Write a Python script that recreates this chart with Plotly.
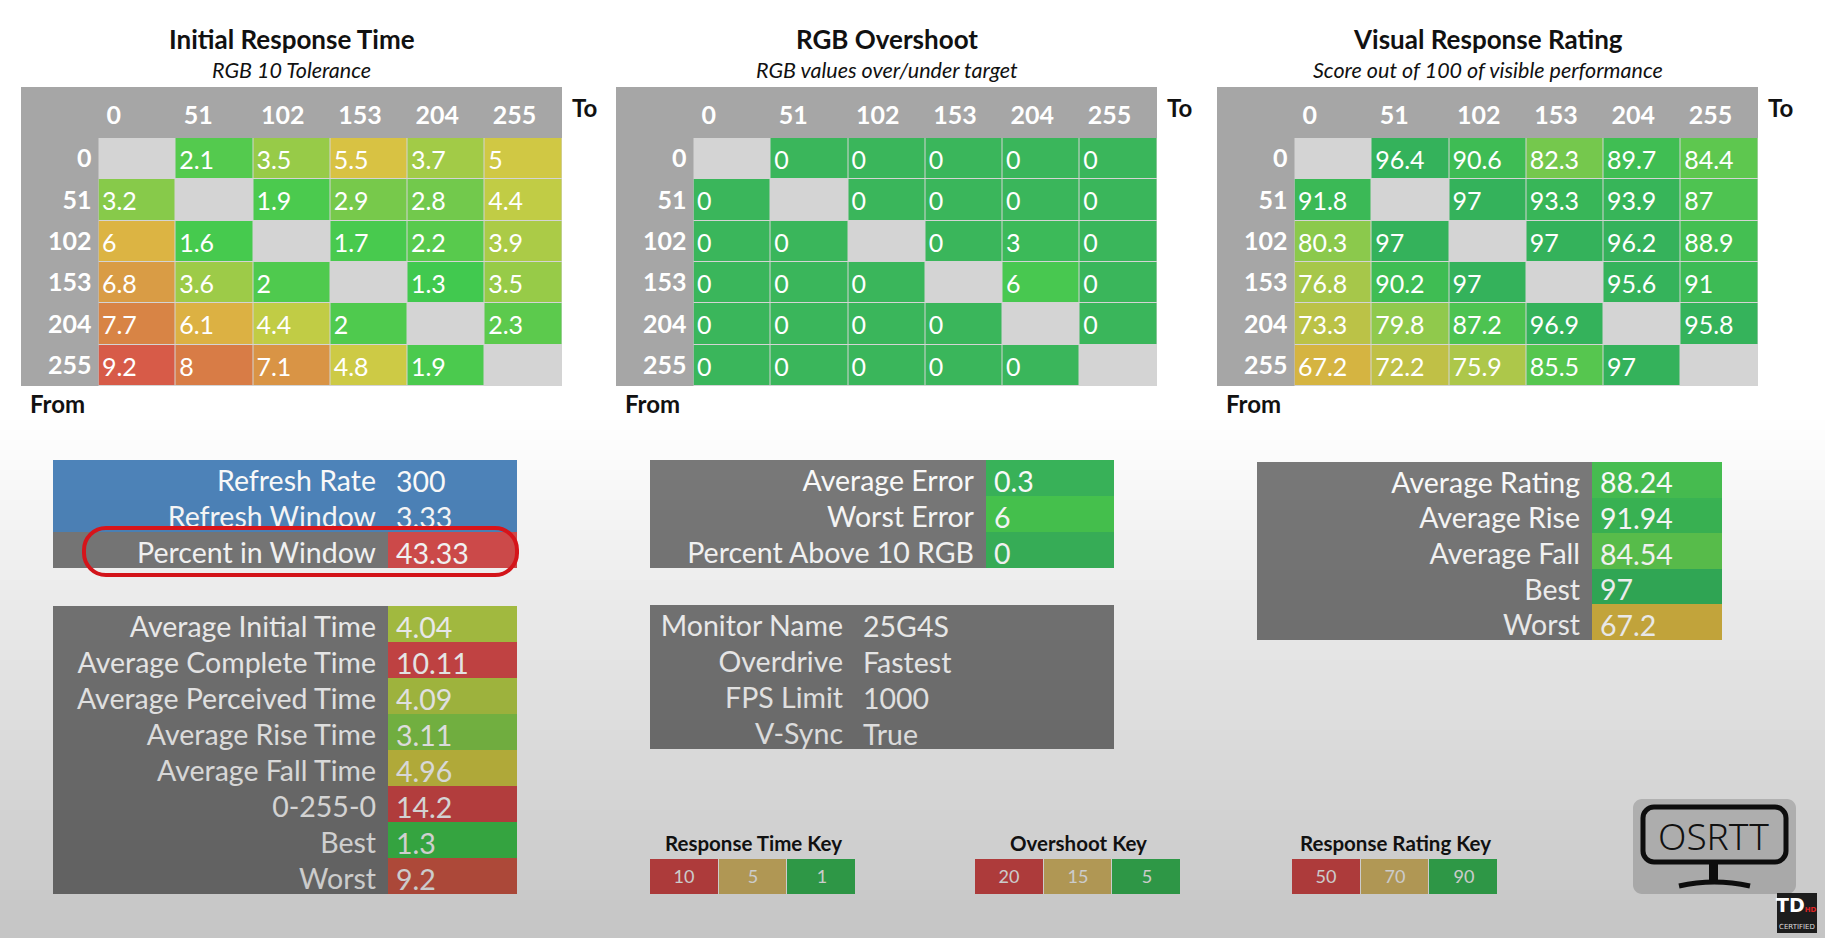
import plotly.graph_objects as go

W, H = 1825, 938
FONT = "Lato"

# ---- data ----
levels = ["0", "51", "102", "153", "204", "255"]

initial_time = [
    [None, 2.1, 3.5, 5.5, 3.7, 5],
    [3.2, None, 1.9, 2.9, 2.8, 4.4],
    [6, 1.6, None, 1.7, 2.2, 3.9],
    [6.8, 3.6, 2, None, 1.3, 3.5],
    [7.7, 6.1, 4.4, 2, None, 2.3],
    [9.2, 8, 7.1, 4.8, 1.9, None],
]
overshoot = [
    [None, 0, 0, 0, 0, 0],
    [0, None, 0, 0, 0, 0],
    [0, 0, None, 0, 3, 0],
    [0, 0, 0, None, 6, 0],
    [0, 0, 0, 0, None, 0],
    [0, 0, 0, 0, 0, None],
]
rating = [
    [None, 96.4, 90.6, 82.3, 89.7, 84.4],
    [91.8, None, 97, 93.3, 93.9, 87],
    [80.3, 97, None, 97, 96.2, 88.9],
    [76.8, 90.2, 97, None, 95.6, 91],
    [73.3, 79.8, 87.2, 96.9, None, 95.8],
    [67.2, 72.2, 75.9, 85.5, 97, None],
]

refresh_labels = ["Refresh Rate", "Refresh Window", "Percent in Window"]
refresh_values = [300, 3.33, 43.33]

time_labels = ["Average Initial Time", "Average Complete Time", "Average Perceived Time",
               "Average Rise Time", "Average Fall Time", "0-255-0", "Best", "Worst"]
time_values = [4.04, 10.11, 4.09, 3.11, 4.96, 14.2, 1.3, 9.2]

os_labels = ["Average Error", "Worst Error", "Percent Above 10 RGB"]
os_values = [0.3, 6, 0]

monitor_labels = ["Monitor Name", "Overdrive", "FPS Limit", "V-Sync"]
monitor_values = ["25G4S", "Fastest", "1000", "True"]

rating_labels = ["Average Rating", "Average Rise", "Average Fall", "Best", "Worst"]
rating_values = [88.24, 91.94, 84.54, 97, 67.2]

rt_key = [10, 5, 1]
os_key = [20, 15, 5]
rr_key = [50, 70, 90]

# ---- colour scales ----
time_scale = [[0, "#3cc94f"], [0.1, "#4bca4e"], [0.2, "#72c94c"], [0.3, "#a2cb47"],
              [0.4, "#cacc45"], [0.5, "#d8c243"], [0.56, "#dcb343"], [0.65, "#d99b45"],
              [0.74, "#d88545"], [0.9, "#d75d48"], [1, "#d64a4a"]]
os_scale = [[0, "#3ab65b"], [0.15, "#3cba59"], [0.3, "#48c850"], [0.5, "#a6cb47"],
            [0.75, "#d8b443"], [1, "#d64a4a"]]
rating_scale = [[0, "#d64a4a"], [0.2, "#d98a45"], [0.34, "#d6b441"], [0.5, "#b4c649"],
                [0.6, "#8ec94c"], [0.7, "#58c74f"], [0.8, "#3fbd53"], [0.9, "#35b35b"],
                [1, "#33b05c"]]
pct_scale = [[0, "#d84e4e"], [0.5, "#d84e4e"], [0.75, "#d8c243"], [1, "#3cc94f"]]
KEY_COLORS = ["#d94a4a", "#dcbd6a", "#3abd58"]  # bad, mid, good


def key_scale(vals):
    lo, hi = min(vals), max(vals)
    stops = sorted(((v - lo) / (hi - lo), c) for v, c in zip(vals, KEY_COLORS))
    return [list(s) for s in stops]


fig = go.Figure()
layout = {}
shapes = []
annotations = []


def fx(x):
    return x / W


def fy(y):
    return 1 - y / H


def rect(x0, y0, x1, y1, color, layer="below"):
    shapes.append(dict(type="rect", xref="paper", yref="paper", x0=fx(x0), x1=fx(x1),
                       y0=fy(y1), y1=fy(y0), fillcolor=color, line=dict(width=0), layer=layer))


def rounded(x0, y0, x1, y1, r):
    k = 0.5523 * r
    pts = [("M", [(x0 + r, y0)]), ("L", [(x1 - r, y0)]),
           ("C", [(x1 - r + k, y0), (x1, y0 + r - k), (x1, y0 + r)]), ("L", [(x1, y1 - r)]),
           ("C", [(x1, y1 - r + k), (x1 - r + k, y1), (x1 - r, y1)]), ("L", [(x0 + r, y1)]),
           ("C", [(x0 + r - k, y1), (x0, y1 - r + k), (x0, y1 - r)]), ("L", [(x0, y0 + r)]),
           ("C", [(x0, y0 + r - k), (x0 + r - k, y0), (x0 + r, y0)])]
    s = ""
    for cmd, pp in pts:
        s += cmd + " ".join(f"{fx(a):.5f},{fy(b):.5f}" for a, b in pp) + " "
    return s + "Z"


def label(x, y, s, size, color="#111", weight="normal", style="normal", family=FONT):
    annotations.append(dict(x=fx(x), y=fy(y), xref="paper", yref="paper", text=s, showarrow=False,
                            xanchor="center", yanchor="middle",
                            font=dict(family=family, size=size, color=color, weight=weight, style=style)))


def axes(n, x0, x1, y0, y1, xr, yr, xk=None, yk=None):
    sx = "" if n == 1 else str(n)
    base = dict(showgrid=False, zeroline=False, showline=False, ticks="", fixedrange=True,
                showticklabels=False)
    xa = dict(base, domain=[fx(x0), fx(x1)], range=xr, anchor="y" + sx)
    ya = dict(base, domain=[fy(y1), fy(y0)], range=yr, anchor="x" + sx)
    xa.update(xk or {})
    ya.update(yk or {})
    layout["xaxis" + sx] = xa
    layout["yaxis" + sx] = ya
    return "x" + sx, "y" + sx


def fmt(v):
    return v if isinstance(v, str) else f"{v:g}"


tick_font = dict(family=FONT, size=25, color="white", weight="bold")
cell_font = dict(family=FONT, size=25, color="white")

# ---- the three matrices ----
panels = [
    (21, initial_time, time_scale, 1, 10, "Initial Response Time", "RGB 10 Tolerance"),
    (616, overshoot, os_scale, 0, 20, "RGB Overshoot", "RGB values over/under target"),
    (1217, rating, rating_scale, 50, 100, "Visual Response Rating",
     "Score out of 100 of visible performance"),
]
PW, LW, TOP, HEAD, BOT = 541, 77.5, 87, 138, 386
for n, (left, z, scale, zmin, zmax, title, sub) in enumerate(panels, 1):
    rect(left, TOP, left + PW, BOT, "#a6a6a6")
    rect(left + LW, HEAD, left + PW, BOT, "#d4d4d4")
    # column headers sit left-aligned in their column, like the cell values
    xa, ya = axes(n, left + LW, left + PW, HEAD, BOT, [-0.5, 5.5], [5.5, -0.5],
                  xk=dict(side="top", showticklabels=True, tickvals=[j - 0.5 for j in range(6)],
                          ticktext=levels, ticklabelposition="outside right",
                          tickfont=tick_font, ticklabelstandoff=8, ticklabelshift=8),
                  yk=dict(showticklabels=True, tickvals=list(range(6)), ticktext=levels,
                          tickfont=tick_font, ticklabelstandoff=6))
    fig.add_trace(go.Heatmap(z=z, x=list(range(6)), y=list(range(6)), colorscale=scale,
                             zmin=zmin, zmax=zmax, showscale=False, xgap=1, ygap=1,
                             hoverinfo="skip", xaxis=xa, yaxis=ya))
    xs, ys, ts = [], [], []
    for i, row in enumerate(z):
        for j, v in enumerate(row):
            if v is not None:
                xs.append(j - 0.5 + 0.045)
                ys.append(i + 0.1)
                ts.append(fmt(v))
    fig.add_trace(go.Scatter(x=xs, y=ys, text=ts, mode="text", textposition="middle right",
                             textfont=cell_font, hoverinfo="skip", showlegend=False,
                             xaxis=xa, yaxis=ya))
    cx = left + PW / 2
    label(cx, 39, title, 26, weight="bold")
    label(cx, 70, sub, 21.5, style="italic")
    label(left + PW + 22, 107, "To", 24, weight="bold")
    label(left + 36, 403, "From", 24, weight="bold")

# ---- stat boxes ----
LABEL_BG = "#7b7b7b"
boxes = [
    # n, left, split, right, top, bottom, labels, values, scale, zmin, zmax
    (4, 53, 388, 517, 460, 568, refresh_labels, refresh_values, pct_scale, 0, 100),
    (5, 53, 388, 517, 606, 894, time_labels, time_values, time_scale, 1, 10),
    (6, 650, 986, 1114, 460, 568, os_labels, os_values, os_scale, 0, 20),
    (7, 650, 855, 1114, 605, 749, monitor_labels, monitor_values, None, 0, 1),
    (8, 1257, 1592, 1722, 462, 640, rating_labels, rating_values, rating_scale, 50, 100),
]
box_font = dict(family=FONT, size=28.5, color="white")
for n, left, split, right, top, bot, labs, vals, scale, zmin, zmax in boxes:
    rows = len(labs)
    rect(left, top, right, bot, LABEL_BG)
    xa, ya = axes(n, split, right, top, bot, [-0.5, 0.5], [rows - 0.5, -0.5],
                  yk=dict(showticklabels=True, tickvals=list(range(rows)), ticktext=labs,
                          tickfont=box_font, ticklabelstandoff=11, ticklabelshift=-3))
    if n == 4:
        # refresh settings rows are blue, only the percentage gets a colour
        shapes.append(dict(type="rect", xref="paper", yref=ya, x0=fx(left), x1=fx(right),
                           y0=-0.5, y1=1.5, fillcolor="#4f86bd", line=dict(width=0), layer="below"))
        zc = [[None], [None], [vals[2]]]
    else:
        zc = [[v] for v in vals]
    if scale is not None:
        fig.add_trace(go.Heatmap(z=zc, x=[0], y=list(range(rows)), colorscale=scale,
                                 zmin=zmin, zmax=zmax, showscale=False, hoverinfo="skip",
                                 xaxis=xa, yaxis=ya))
    fig.add_trace(go.Scatter(x=[-0.5 + 8 / (right - split)] * rows, y=[i + 0.18 for i in range(rows)],
                             text=[fmt(v) for v in vals], mode="text",
                             textposition="middle right", textfont=box_font,
                             hoverinfo="skip", showlegend=False, xaxis=xa, yaxis=ya))

# red highlight round "Percent in Window"
shapes.append(dict(type="path", xref="paper", yref="paper", path=rounded(84, 528, 517, 575, 22),
                   line=dict(color="#e3161c", width=4), fillcolor="rgba(0,0,0,0)", layer="above"))

# ---- keys ----
keys = [
    (9, 650, 856, "Response Time Key", rt_key),
    (10, 975, 1181, "Overshoot Key", os_key),
    (11, 1292, 1498, "Response Rating Key", rr_key),
]
for n, x0, x1, title, kv in keys:
    xa, ya = axes(n, x0, x1, 859, 894, [-0.5, 2.5], [-0.5, 0.5])
    fig.add_trace(go.Heatmap(z=[kv], x=[0, 1, 2], y=[0], colorscale=key_scale(kv),
                             zmin=min(kv), zmax=max(kv), showscale=False, xgap=1,
                             texttemplate="%{z}", textfont=dict(family=FONT, size=18, color="white"),
                             hoverinfo="skip", xaxis=xa, yaxis=ya))
    label((x0 + x1) / 2, 843, title, 20.5, weight="bold")

# ---- OSRTT logo ----
shapes.append(dict(type="path", xref="paper", yref="paper", path=rounded(1633, 799, 1796, 894, 9),
                   fillcolor="#d4d4d4", line=dict(width=0), layer="below"))
shapes.append(dict(type="path", xref="paper", yref="paper", path=rounded(1643, 807, 1786, 862, 11),
                   fillcolor="rgba(0,0,0,0)", line=dict(color="#111", width=5), layer="below"))
rect(1709, 862, 1718, 881, "#111")
shapes.append(dict(type="path", xref="paper", yref="paper", layer="below",
                   path=f"M{fx(1679)},{fy(886)} Q{fx(1714)},{fy(878)} {fx(1750)},{fy(886)}",
                   line=dict(color="#111", width=5)))
label(1713, 835, "OSRTT", 37, color="#111", weight=300, family="Noto Sans")
rect(1777, 893, 1817, 933, "#262626", layer="above")
label(1796, 905, "TD<span style='font-size:7px;color:#d22'>HD</span>", 19,
      color="white", weight="bold", family="DejaVu Sans")
label(1797, 927, "CERTIFIED", 7, color="#ddd", family="DejaVu Sans")

# ---- darkening gradient over the lower part ----
for k in range(52):
    y0 = 420 + k * 10
    a = 0.23 * (k + 0.5) / 52
    shapes.append(dict(type="rect", xref="paper", yref="paper", x0=0, x1=1,
                       y0=fy(min(y0 + 10, H)), y1=fy(y0), fillcolor=f"rgba(0,0,0,{a:.4f})",
                       line=dict(width=0), layer="above"))

fig.update_layout(
    width=W, height=H, margin=dict(l=0, r=0, t=0, b=0),
    paper_bgcolor="white", plot_bgcolor="rgba(0,0,0,0)",
    showlegend=False, shapes=shapes, annotations=annotations,
    font=dict(family=FONT), **layout,
)

# page body has a default 8px margin; drop it so the figure sits at the window corner
fig.write_html("out.html", config={"displayModeBar": False},
               post_script="document.body.style.margin='0px';")
